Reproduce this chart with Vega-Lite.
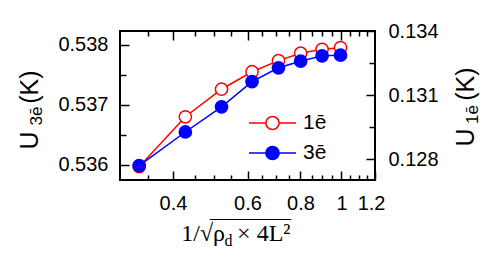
{
  "$schema": "https://vega.github.io/schema/vega-lite/v6.json",
  "width": 255,
  "height": 149,
  "autosize": "none",
  "padding": {"left": 120, "top": 31, "right": 121, "bottom": 91},
  "background": "white",
  "config": {
    "view": {"stroke": "black", "strokeWidth": 2},
    "axis": {
      "domain": false,
      "grid": false,
      "tickColor": "black",
      "tickWidth": 1.5,
      "labelColor": "black",
      "titleColor": "black",
      "labelFont": "Liberation Sans",
      "labelFontSize": 20,
      "titleFontWeight": "normal",
      "labelOverlap": false,
      "labelBound": false
    }
  },
  "datasets": {
    "oneE": [
      {"x": 0.333, "y": 0.12764, "series": "1ē"},
      {"x": 0.428, "y": 0.12998, "series": "1ē"},
      {"x": 0.521, "y": 0.13127, "series": "1ē"},
      {"x": 0.615, "y": 0.13209, "series": "1ē"},
      {"x": 0.71, "y": 0.13261, "series": "1ē"},
      {"x": 0.801, "y": 0.13296, "series": "1ē"},
      {"x": 0.9, "y": 0.13314, "series": "1ē"},
      {"x": 0.995, "y": 0.13322, "series": "1ē"}
    ],
    "threeE": [
      {"x": 0.333, "y": 0.53599, "series": "3ē"},
      {"x": 0.428, "y": 0.53655, "series": "3ē"},
      {"x": 0.521, "y": 0.53697, "series": "3ē"},
      {"x": 0.615, "y": 0.53739, "series": "3ē"},
      {"x": 0.71, "y": 0.53762, "series": "3ē"},
      {"x": 0.801, "y": 0.53773, "series": "3ē"},
      {"x": 0.9, "y": 0.53782, "series": "3ē"},
      {"x": 0.995, "y": 0.53783, "series": "3ē"}
    ]
  },
  "layer": [
    {
      "data": {"name": "oneE"},
      "encoding": {
        "x": {
          "field": "x",
          "type": "quantitative",
          "scale": {"type": "log", "domain": [0.3, 1.2], "nice": false},
          "axis": {
            "orient": "top",
            "values": [0.35, 0.4, 0.45, 0.5, 0.55, 0.6, 0.65, 0.7, 0.75, 0.8, 0.85, 0.9, 0.95, 1, 1.05, 1.1, 1.15],
            "labels": false,
            "tickSize": {"condition": {"test": "round(datum.value*100) % 20 == 0", "value": -9}, "value": -5},
            "title": "d",
            "titleFont": "Liberation Serif",
            "titleFontSize": 16,
            "titleAngle": 0,
            "titleAlign": "center",
            "titleBaseline": "alphabetic",
            "titleX": 108,
            "titleY": 214
          }
        },
        "y": {
          "field": "y",
          "type": "quantitative",
          "scale": {"domain": [0.127016, 0.134], "nice": false, "zero": false},
          "axis": {
            "orient": "right",
            "values": [0.128, 0.1295, 0.131, 0.1325, 0.134],
            "format": ".3f",
            "labelExpr": "(round(datum.value*2000) - 256) % 6 == 0 ? datum.label : ''",
            "tickSize": {"condition": {"test": "(round(datum.value*2000) - 256) % 6 == 0", "value": -9}, "value": -6},
            "labelPadding": 22,
            "title": "U\u00a0\u00a0\u00a0\u00a0(K)",
            "titleFont": "Liberation Sans",
            "titleFontSize": 25,
            "titleAngle": 270,
            "titleAlign": "center",
            "titleBaseline": "alphabetic",
            "titleX": 98,
            "titleY": 75.5
          }
        }
      },
      "layer": [
        {"mark": {"type": "line", "strokeWidth": 1.5, "stroke": "#ff0000"}, "encoding": {}},
        {
          "mark": {"type": "point", "filled": true, "opacity": 1, "size": 150, "strokeWidth": 1.5},
          "encoding": {
            "stroke": {
              "field": "series", "type": "nominal",
              "scale": {"domain": ["1ē", "3ē"], "range": ["#ff0000", "#0000ff"]},
              "legend": {"orient": "none", "legendX": 128, "legendY": 77, "title": null, "padding": 0, "rowPadding": 0, "clipHeight": 30, "symbolType": "M-1,0H-0.28M0.28,0H1M-0.28,0A0.28,0.28,0,1,1,0.28,0A0.28,0.28,0,1,1,-0.28,0Z", "symbolSize": 2209, "symbolStrokeWidth": 1.5, "labelOffset": 6, "labelFont": "Liberation Sans", "labelFontSize": 21, "labelColor": "black"}
            },
            "fill": {
              "field": "series", "type": "nominal",
              "scale": {"domain": ["1ē", "3ē"], "range": ["#ffffff", "#0000ff"]},
              "legend": {"orient": "none", "legendX": 128, "legendY": 77, "title": null, "padding": 0, "rowPadding": 0, "clipHeight": 30, "symbolType": "M-1,0H-0.28M0.28,0H1M-0.28,0A0.28,0.28,0,1,1,0.28,0A0.28,0.28,0,1,1,-0.28,0Z", "symbolSize": 2209, "symbolStrokeWidth": 1.5, "labelOffset": 6, "labelFont": "Liberation Sans", "labelFontSize": 21, "labelColor": "black"}
            }
          }
        }
      ]
    },
    {
      "data": {"name": "threeE"},
      "encoding": {
        "x": {
          "field": "x",
          "type": "quantitative",
          "scale": {"type": "log", "domain": [0.3, 1.2], "nice": false},
          "axis": {
            "orient": "bottom",
            "values": [0.35, 0.4, 0.45, 0.5, 0.55, 0.6, 0.65, 0.7, 0.75, 0.8, 0.85, 0.9, 0.95, 1, 1.05, 1.1, 1.15, 1.2],
            "format": ".1~f",
            "labelExpr": "round(datum.value*100) % 20 == 0 ? datum.label : ''",
            "tickSize": {"condition": {"test": "round(datum.value*100) % 20 == 0", "value": -9}, "value": -5},
            "labelPadding": 22,
            "labelFlush": true,
            "labelFlushOffset": 10,
            "title": ["1/√ρ\u00a0\u00a0× 4L²", "‾‾‾‾‾‾‾‾‾‾"],
            "titleFont": "Liberation Serif",
            "titleFontSize": 24,
            "titleLineHeight": -3,
            "titleAngle": 0,
            "titleAlign": "right",
            "titleBaseline": "alphabetic",
            "titleX": 170,
            "titleY": 60
          }
        },
        "y": {
          "field": "y",
          "type": "quantitative",
          "scale": {"domain": [0.53575, 0.538233], "nice": false, "zero": false},
          "axis": {
            "orient": "left",
            "values": [0.536, 0.5365, 0.537, 0.5375, 0.538],
            "format": ".3f",
            "labelExpr": "round(datum.value*10000) % 10 == 0 ? datum.label : ''",
            "tickSize": {"condition": {"test": "round(datum.value*10000) % 10 == 0", "value": -9}, "value": -6},
            "labelPadding": 21,
            "title": "U\u00a0\u00a0\u00a0\u00a0(K)",
            "titleFont": "Liberation Sans",
            "titleFontSize": 25,
            "titleAngle": 270,
            "titleAlign": "center",
            "titleBaseline": "alphabetic",
            "titleX": -83,
            "titleY": 78.5
          }
        }
      },
      "layer": [
        {"mark": {"type": "line", "strokeWidth": 1.5, "stroke": "#0000ff"}, "encoding": {}},
        {
          "mark": {"type": "point", "filled": true, "opacity": 1, "size": 150, "strokeWidth": 1.5},
          "encoding": {
            "stroke": {"field": "series", "type": "nominal", "scale": {"domain": ["1ē", "3ē"], "range": ["#ff0000", "#0000ff"]}},
            "fill": {"field": "series", "type": "nominal", "scale": {"domain": ["1ē", "3ē"], "range": ["#ffffff", "#0000ff"]}}
          }
        }
      ]
    },
    {
      "data": {"name": "threeE"},
      "mark": {"type": "point", "opacity": 0},
      "encoding": {
        "x": {"field": "x", "type": "quantitative", "scale": {"type": "log", "domain": [0.3, 1.2], "nice": false}, "axis": null},
        "y": {
          "field": "y",
          "type": "quantitative",
          "scale": {"zero": false},
          "axis": {
            "orient": "left",
            "ticks": false,
            "labels": false,
            "title": "3ē",
            "titleFont": "Liberation Sans",
            "titleFontSize": 17,
            "titleAngle": 270,
            "titleAlign": "center",
            "titleBaseline": "alphabetic",
            "titleX": -79,
            "titleY": 84.5
          }
        }
      }
    },
    {
      "data": {"name": "oneE"},
      "mark": {"type": "point", "opacity": 0},
      "encoding": {
        "x": {"field": "x", "type": "quantitative", "scale": {"type": "log", "domain": [0.3, 1.2], "nice": false}, "axis": null},
        "y": {
          "field": "y",
          "type": "quantitative",
          "scale": {"zero": false},
          "axis": {
            "orient": "right",
            "ticks": false,
            "labels": false,
            "title": "1ē",
            "titleFont": "Liberation Sans",
            "titleFontSize": 17,
            "titleAngle": 270,
            "titleAlign": "center",
            "titleBaseline": "alphabetic",
            "titleX": 102,
            "titleY": 83
          }
        }
      }
    }
  ],
  "resolve": {
    "scale": {"y": "independent"},
    "axis": {"x": "independent", "y": "independent"}
  }
}
